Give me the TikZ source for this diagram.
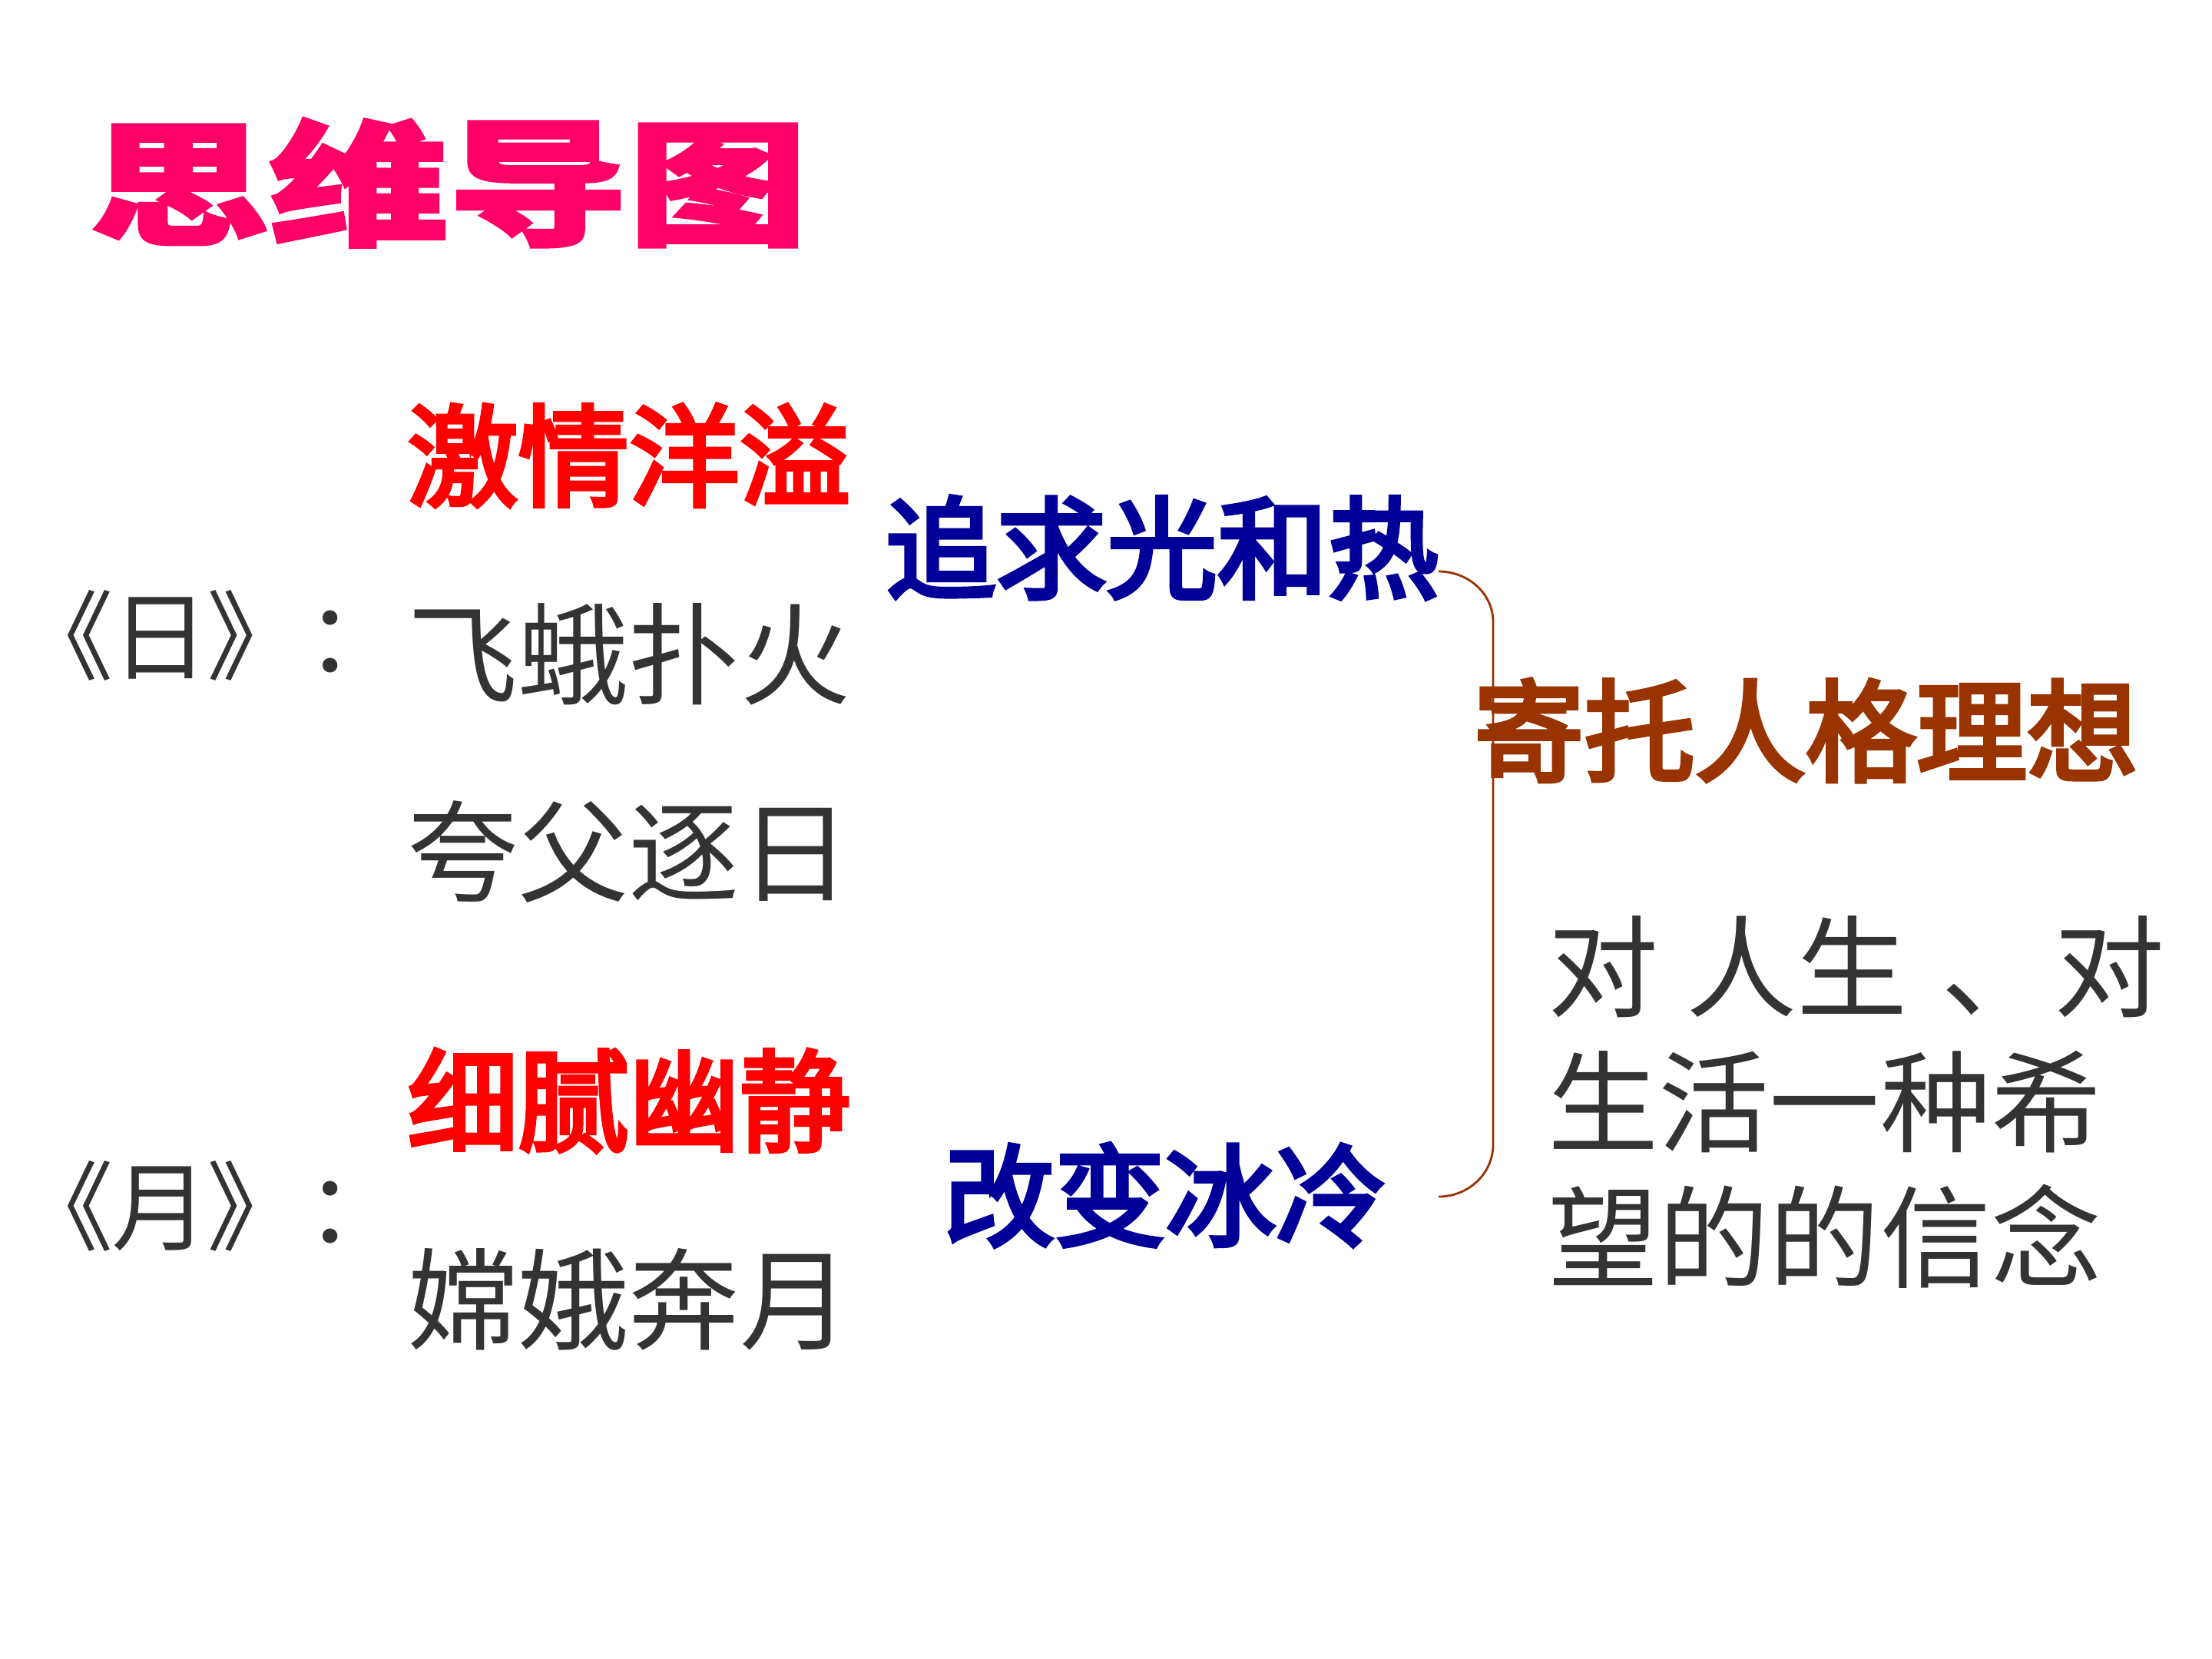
\documentclass[tikz,border=0pt]{standalone}
\usepackage{fontspec}
\usepackage{graphicx}
\setmainfont{Noto Sans CJK SC}
\newfontfamily\cjkprop{Noto Sans CJK SC}[RawFeature=+palt]
\newfontfamily\cjktitle{Noto Sans CJK SC}[FakeBold=2]
\newfontfamily\cjkthick{Noto Sans CJK SC}[FakeBold=4]
\usepackage{tikz}
\usetikzlibrary{positioning}
\definecolor{titlepink}{HTML}{FF0066}
\definecolor{hotred}{HTML}{FF0000}
\definecolor{coolblue}{HTML}{000099}
\definecolor{idealbrown}{HTML}{993300}
\definecolor{inkgray}{HTML}{333333}
\newcommand{\bigcjk}{\fontsize{41}{50}\selectfont}

\begin{document}
\begin{tikzpicture}[
  every node/.style={inner sep=0pt},
  graytxt/.style={text=inkgray,font=\bigcjk},
  redtxt/.style={text=hotred,font=\cjkthick\bigcjk},
  bluetxt/.style={text=coolblue,font=\cjkthick\bigcjk},
  browntxt/.style={text=idealbrown,font=\cjkthick\bigcjk},
  poemtxt/.style={text=inkgray,font=\cjkprop\fontsize{36}{40}\selectfont,anchor=west}]
\fill[white] (0,0) rectangle (28.8,-21.6);
\useasboundingbox (0,0) rectangle (28.8,-21.6);
% title
\node[text=titlepink,font=\cjktitle\bfseries\fontsize{50}{50}\selectfont] (title) at (5.84,-2.38) {\scalebox{1.33}[1]{思维导图}};
% sun
\node[poemtxt] (ri) at (0.82,-8.27) {《日》\hspace{0.5em}：};
\node[redtxt,anchor=west] (jiqing) at (5.3,-5.93) {激情洋溢};
\node[graytxt,anchor=west] (feie) at (5.3,-8.52) {飞蛾扑火};
\node[graytxt,anchor=west] (kuafu) at (5.3,-11.09) {夸父逐日};
\node[bluetxt] (zhuiqiu) at (15.13,-7.13) {追求光和热};
% moon
\node[poemtxt] (yue) at (0.82,-15.70) {《月》\hspace{0.5em}：};
\node[redtxt,anchor=west] (xini) at (5.3,-14.33) {细腻幽静};
\node[graytxt,anchor=west] (change) at (5.3,-16.92) {嫦娥奔月};
\node[bluetxt] (gaibian) at (15.17,-15.56) {改变冰冷};
% brace
\coordinate (btop) at (18.73,-7.44);
\coordinate (bbot) at (18.73,-15.58);
\draw[idealbrown,line width=0.8pt] (btop) to[out=0,in=90] (19.44,-8.1) -- (19.44,-14.9) to[out=-90,in=0] (bbot);
% right side
\node[browntxt,anchor=west] (jituo) at (19.18,-9.51) {寄托人格理想};
\node[graytxt,anchor=north west,align=left] (xinnian) at (20.15,-11.92)
  {对\hspace{0.25em}人生\hspace{0.3em}、\hspace{0.02em}对\\生活一种希\\望的的信念};
\end{tikzpicture}
\end{document}
